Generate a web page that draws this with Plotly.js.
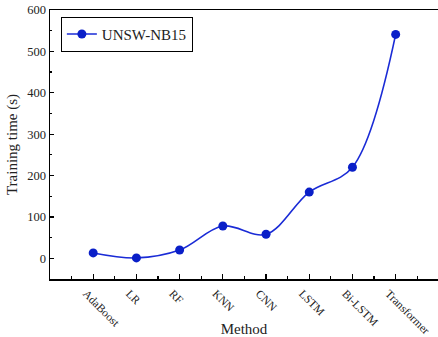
<!DOCTYPE html>
<html>
<head>
<meta charset="utf-8">
<script src="https://cdn.plot.ly/plotly-3.0.1.min.js"></script>
<style>html,body{margin:0;padding:0;background:#fff;}#chart{width:438px;height:337px;}</style>
</head>
<body>
<div id="chart"></div>
<script>
var methods = ["AdaBoost", "LR", "RF", "KNN", "CNN", "LSTM", "Bi-LSTM", "Transformer"];
var trainingTime = [13, 1, 20, 78, 58, 160, 220, 541];
var seriesName = "UNSW-NB15";
var yTicks = [0, 100, 200, 300, 400, 500, 600];

var idx = methods.map(function (m, i) { return i; });

var trace = {
  x: idx,
  y: trainingTime,
  type: "scatter",
  mode: "lines+markers",
  name: seriesName,
  line: { color: "#1a2bd6", width: 1.6, shape: "spline", smoothing: 1 },
  marker: { color: "#0a1fc8", size: 9 }
};

var font = { family: "Liberation Serif, Times New Roman, serif", color: "#222" };

var layout = {
  width: 438, height: 337,
  margin: { l: 50, r: 0, t: 10, b: 58, autoexpand: false },
  paper_bgcolor: "#fff", plot_bgcolor: "#fff",
  font: font,
  showlegend: true,
  legend: {
    x: 0.028, y: 0.975, xanchor: "left", yanchor: "top",
    bordercolor: "#000", borderwidth: 1, bgcolor: "#fff",
    font: { family: font.family, size: 15, color: "#222" },
    itemwidth: 30, tracegroupgap: 0
  },
  xaxis: {
    range: [-1, 7.98],
    tickmode: "array", tickvals: idx, ticktext: methods,
    tickangle: 45,
    ticklabeloverflow: "allow",
    ticklabelshift: -7,
    ticklabelstandoff: 2,
    automargin: false,
    ticks: "inside", ticklen: 5, tickwidth: 1.2, tickcolor: "#000",
    minor: { tick0: -0.5, dtick: 1, ticks: "inside", ticklen: 3, tickwidth: 1.2, tickcolor: "#000" },
    showline: true, linecolor: "#000", linewidth: 1.5, mirror: true,
    showgrid: false, zeroline: false,
    tickfont: { family: font.family, size: 11.5, color: "#222" },
    title: { text: "Method", font: { family: font.family, size: 15, color: "#222" }, standoff: 2 }
  },
  yaxis: {
    range: [-50, 600],
    tickmode: "array", tickvals: yTicks,
    automargin: false,
    ticks: "inside", ticklen: 4, tickwidth: 1.2, tickcolor: "#000",
    minor: { tick0: 50, dtick: 100, ticks: "inside", ticklen: 2, tickwidth: 1.2, tickcolor: "#000" },
    showline: true, linecolor: "#000", linewidth: 1.5,
    showgrid: false, zeroline: false,
    tickfont: { family: font.family, size: 12.5, color: "#222" },
    title: { text: "Training time (s)", font: { family: font.family, size: 15, color: "#222" }, standoff: 6 }
  }
};

Plotly.newPlot("chart", [trace], layout, { displayModeBar: false, staticPlot: true });
</script>
</body>
</html>
